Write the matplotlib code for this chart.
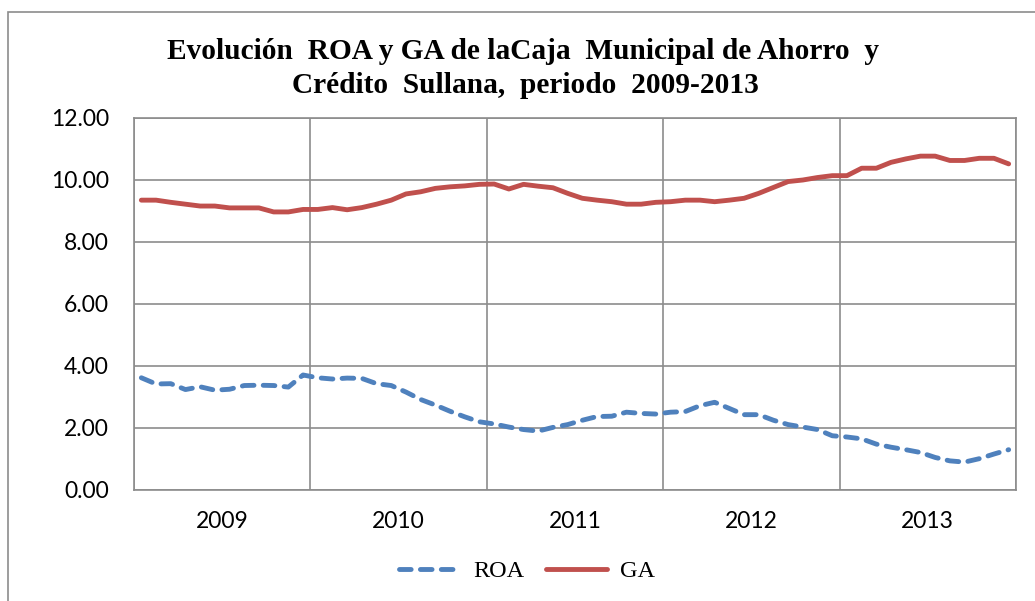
import matplotlib
matplotlib.use("Agg")
import matplotlib.pyplot as plt
from matplotlib.patches import Rectangle
from matplotlib.lines import Line2D
import numpy as np

years = ["2009", "2010", "2011", "2012", "2013"]
roa = [3.62, 3.42, 3.43, 3.24, 3.33, 3.22, 3.25, 3.37, 3.38, 3.37, 3.32, 3.71,
       3.62, 3.58, 3.61, 3.60, 3.43, 3.37, 3.16, 2.92, 2.74, 2.54, 2.36, 2.20,
       2.13, 2.03, 1.95, 1.90, 2.02, 2.11, 2.25, 2.37, 2.38, 2.51, 2.47, 2.45,
       2.51, 2.53, 2.72, 2.83, 2.63, 2.43, 2.43, 2.25, 2.11, 2.03, 1.95, 1.75,
       1.71, 1.65, 1.48, 1.38, 1.30, 1.21, 1.05, 0.94, 0.90, 1.01, 1.16, 1.30]
ga = [9.35, 9.35, 9.28, 9.22, 9.16, 9.16, 9.10, 9.10, 9.10, 8.97, 8.97, 9.05,
      9.05, 9.11, 9.04, 9.11, 9.22, 9.35, 9.55, 9.62, 9.73, 9.78, 9.81, 9.86,
      9.87, 9.71, 9.86, 9.80, 9.75, 9.57, 9.41, 9.35, 9.30, 9.22, 9.22, 9.28,
      9.30, 9.35, 9.35, 9.30, 9.35, 9.41, 9.57, 9.76, 9.95, 10.00, 10.08, 10.14,
      10.14, 10.38, 10.38, 10.57, 10.68, 10.77, 10.77, 10.63, 10.63, 10.70, 10.70, 10.52]
series_names = ["ROA", "GA"]
title_lines = ["Evolución  ROA y GA de laCaja  Municipal de Ahorro  y",
               "Crédito  Sullana,  periodo  2009-2013"]

W, H = 1035, 601
fig = plt.figure(figsize=(W / 100, H / 100), dpi=100)

# outer chart border
fig.patches.append(Rectangle((8 / W, -0.05), 1.2, 1 - 12 / H + 0.05,
                             transform=fig.transFigure, fill=False,
                             edgecolor="#8c8c8c", linewidth=1.2))

left, right, top, bottom = 134, 1016, 118, 490
ax = fig.add_axes([left / W, 1 - bottom / H, (right - left) / W, (bottom - top) / H])

x = np.arange(len(roa)) + 0.5
blue = "#4F81BD"
red = "#C0504D"
LW = 3.5
dash = (0, (2.4, 1.9))
ax.plot(x, roa, color=blue, lw=LW, linestyle=dash,
        dash_capstyle="round", solid_joinstyle="round", label=series_names[0], zorder=3)
ax.plot(x, ga, color=red, lw=LW, solid_capstyle="round", solid_joinstyle="round",
        label=series_names[1], zorder=3)

ax.set_xlim(0, 60)
ax.set_ylim(0, 12)
ax.set_yticks(np.arange(0, 12.01, 2))
ax.set_yticklabels([f"{v:.2f}" for v in np.arange(0, 12.01, 2)])
ax.set_xticks(np.arange(0, 61, 12))
ax.set_xticklabels([])
ax.set_xticks(np.arange(6, 60, 12), minor=True)
ax.set_xticklabels(years, minor=True)
ax.grid(True, which="major", color="#8c8c8c", linewidth=1.2)
ax.set_axisbelow(True)
for s in ax.spines.values():
    s.set_color("#8c8c8c")
    s.set_linewidth(1.2)
ax.tick_params(axis="both", which="both", length=0)
ax.tick_params(axis="y", pad=18, labelsize=16.5)
ax.tick_params(axis="x", which="minor", pad=15, labelsize=16.5)
for lab in ax.get_yticklabels() + ax.get_xticklabels(minor=True):
    lab.set_fontfamily("Lato")

fig.text(523 / W, 1 - 59 / H, title_lines[0], ha="center", va="baseline",
         fontfamily="Liberation Serif", fontweight="bold", fontsize=21.2)
fig.text(525 / W, 1 - 93 / H, title_lines[1], ha="center", va="baseline",
         fontfamily="Liberation Serif", fontweight="bold", fontsize=21.2)

handles = [Line2D([], [], color=blue, lw=LW, linestyle=dash, dash_capstyle="round"),
           Line2D([], [], color=red, lw=LW, solid_capstyle="round")]
fig.legend(handles, series_names, loc="center", bbox_to_anchor=(527 / W, 1 - 571 / H),
           ncol=2, frameon=False, prop={"family": "Liberation Serif", "size": 17.5},
           handlelength=2.5, handletextpad=0.55, columnspacing=0.9)

fig.savefig("out.png", dpi=100)
